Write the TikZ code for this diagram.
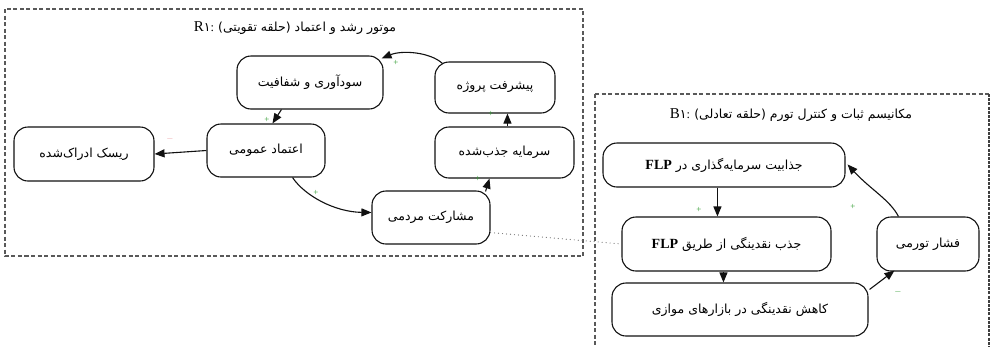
\documentclass[tikz,border=0pt]{standalone}
\usepackage{fontspec}
\setmainfont{Liberation Serif}
\newfontfamily\fa[Script=Arabic]{DejaVu Sans}
\TeXXeTstate=1
\usetikzlibrary{arrows.meta,calc}
\definecolor{edge}{HTML}{111111}
\definecolor{plusc}{HTML}{2E9A2E}
\definecolor{minusr}{HTML}{E89AA0}
\begin{document}
\begin{tikzpicture}[x=1pt,y=-1pt,
  box/.style={draw=edge, line width=1.1pt, rounded corners=14pt, fill=white, inner sep=0pt, font=\fa\fontsize{12.5}{14}\selectfont},
  arr/.style={draw=edge, line width=1.1pt, -{Triangle[length=10pt,width=8pt]}},
  loopbox/.style={draw=black!65, line width=1.2pt, dash pattern=on 4pt off 2.5pt},
  sgn/.style={font=\fontsize{9}{9}\selectfont, inner sep=0pt},
  ttl/.style={font=\fontsize{12.5}{14}\selectfont, inner sep=0pt}
  ]
\newcommand\flptxt{{\rmfamily\bfseries\fontsize{14}{14}\selectfont FLP}}
\useasboundingbox (0,0) rectangle (995,346);
% loop frames
\draw[loopbox] (5,9) rectangle (583,256);
\draw[loopbox] (595,94) -- (989,94);
\draw[loopbox] (595,94) -- (595,360);
\draw[draw=black!75, line width=2.2pt, dash pattern=on 3pt off 1.2pt] (989,94) -- (989,360);
\node[ttl] (t1) at (295,28) {{\fontsize{15}{15}\selectfont R}{\fa ۱}: {\fa\beginR موتور رشد و اعتماد (حلقه تقویتی)\endR}};
\node[ttl] (t2) at (791,115) {{\fontsize{15}{15}\selectfont B}{\fa ۱}: {\fa\beginR مکانیسم ثبات و کنترل تورم (حلقه تعادلی)\endR}};
% R1 nodes
\node[box, minimum width=146pt, minimum height=53pt] (sud) at (310,82.5) {\beginR سودآوری و شفافیت\endR};
\node[box, minimum width=120pt, minimum height=51pt] (pish) at (495,87.5) {\beginR پیشرفت پروژه\endR};
\node[box, minimum width=139pt, minimum height=51pt] (sar) at (504.5,152.5) {\beginR سرمایه جذب‌شده\endR};
\node[box, minimum width=118pt, minimum height=53pt] (etm) at (266,150.5) {\beginR اعتماد عمومی\endR};
\node[box, minimum width=140pt, minimum height=54pt] (risk) at (84,154) {\beginR ریسک ادراک‌شده\endR};
\node[box, minimum width=118pt, minimum height=53pt] (mosh) at (431,217.5) {\beginR مشارکت مردمی\endR};
% B1 nodes
\node[box, minimum width=242pt, minimum height=44pt] (jzb) at (724,165) {\beginR جذابیت سرمایه‌گذاری در \beginL\flptxt\endL\endR};
\node[box, minimum width=209pt, minimum height=54pt] (jnq) at (726.5,244) {\beginR جذب نقدینگی از طریق \beginL\flptxt\endL\endR};
\node[box, minimum width=256pt, minimum height=53pt] (kah) at (740,309.5) {\beginR کاهش نقدینگی در بازارهای موازی\endR};
\node[box, minimum width=102pt, minimum height=54pt] (fsh) at (928,244) {\beginR فشار تورمی\endR};
% R1 connectors
\draw[arr] ($(pish.north west)+(8,2)$) .. controls (430,52) and (402,50) .. ($(sud.north east)+(-2,3)$);
\draw[arr] ($(sud.south west)+(45,0)$) -- ($(etm.north west)+(66,0)$);
\draw[arr] (etm.west) -- (risk.east);
\draw[arr] ($(etm.south east)+(-33,0)$) .. controls (305,196) and (335,212) .. ($(mosh.west)+(0,-5)$);
\draw[arr] ($(mosh.north east)+(-5,1)$) -- ($(sar.south west)+(55,0)$);
\draw[arr] ($(sar.north west)+(73,0)$) -- ($(pish.south west)+(73,0)$);
% B1 connectors
\draw[arr] ($(jzb.south west)+(115,0)$) -- ($(jnq.north west)+(96,0)$);
\draw[arr] ($(jnq.south west)+(102,0)$) -- ($(kah.north west)+(112,0)$);
\draw[arr] ($(kah.north east)+(1,7)$) -- ($(fsh.south west)+(18,-1)$);
\draw[arr] ($(fsh.north west)+(22,0)$) .. controls (890,200) and (870,189) .. ($(jzb.north east)+(2,22)$);
% link between loops
\draw[black!55, line width=1.2pt, line cap=round, dash pattern=on 0pt off 4pt] ($(mosh.south east)+(0,-12)$) -- (jnq.west);
% polarity signs
\node[sgn, text=plusc] (s1) at (396,63) {+};
\node[sgn, text=plusc] (s2) at (267,120) {+};
\node[sgn, text=minusr] (s3) at (170,139) {$-$};
\node[sgn, text=plusc] (s4) at (316,193) {+};
\node[sgn, text=plusc] (s5) at (478,179) {+};
\node[sgn, text=plusc] (s6) at (491,114) {+};
\node[sgn, text=plusc] (s7) at (699,210) {+};
\node[sgn, text=plusc] (s8) at (853,207) {+};
\node[sgn, text=plusc] (s9) at (898,292) {$-$};
\end{tikzpicture}
\end{document}
